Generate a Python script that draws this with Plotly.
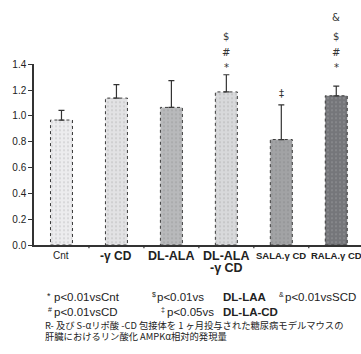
import plotly.graph_objects as go

categories = ["Cnt", "-γCD", "DL-ALA", "DL-ALA-γCD", "SALA.γCD", "RALA.γCD"]
tick_labels = [["Cnt"], ["-γ CD"], ["DL-ALA"], ["DL-ALA", "-γ CD"], ["SALA.γ CD"], ["RALA.γ CD"]]
values = [0.968, 1.138, 1.066, 1.186, 0.817, 1.156]
errors = [0.075, 0.105, 0.208, 0.133, 0.268, 0.075]
sig_marks = [[], [], [], ["*", "#", "$"], [], ["*", "#", "$", "&"]]
dagger_marks = ["", "", "", "", "‡", ""]
y_ticks = [0.0, 0.2, 0.4, 0.6, 0.8, 1.0, 1.2, 1.4]
caption = ["R- 及び S-αリポ酸 -CD 包接体を 1 ヶ月投与された糖尿病モデルマウスの",
           "肝臓におけるリン酸化 AMPKα相対的発現量"]

# styles / layout helpers
W, H = 361, 354
bar_colors = ["#ececee", "#e2e2e4", "#b8b9bb", "#d8d9db", "#a2a3a5", "#75767a"]
label_fonts = [dict(size=10, bold=False), dict(size=12, bold=True), dict(size=12.5, bold=True),
               dict(size=12.5, bold=True), dict(size=9.5, bold=True), dict(size=9.5, bold=True)]
mark_shift = [0, 15, 31, 50]


def px_x(p):
    return p / W


def px_y(p):
    return 1 - p / H


fig = go.Figure()
fig.add_trace(go.Bar(
    x=list(range(len(categories))), y=values, width=0.4,
    marker=dict(color=bar_colors, line=dict(width=0),
                pattern=dict(shape=".", size=4, solidity=0.08, fgcolor="#8a8a8a",
                             fgopacity=0.35)),
    error_y=dict(type="data", symmetric=False, array=errors,
                 arrayminus=[0] * len(errors), color="#333333",
                 thickness=1.2, width=3),
    showlegend=False, hoverinfo="skip",
))

# caption as text marks on an invisible pixel-space overlay axis
fig.add_trace(go.Scatter(
    x=[45, 45], y=[331.5, 342], text=caption, mode="text", textposition="middle right",
    textfont=dict(size=9.3, color="#222222", family="Noto Sans CJK JP"),
    xaxis="x2", yaxis="y2", showlegend=False, hoverinfo="skip", cliponaxis=False,
))

# dashed bar outlines
for i, v in enumerate(values):
    fig.add_shape(type="rect", xref="x", yref="y", x0=i - 0.2, x1=i + 0.2, y0=0, y1=v,
                  line=dict(color="#3a3a3a", width=1, dash="dot"), layer="above")

# significance marks (stacked above the bars, * lowest)
for i, marks in enumerate(sig_marks):
    for k, m in enumerate(marks):
        fig.add_annotation(x=i, y=1.375, yref="y", xref="x", text=m, showarrow=False,
                           yanchor="middle", yshift=mark_shift[k],
                           font=dict(family="DejaVu Sans", size=10, color="#333333"))
for i, m in enumerate(dagger_marks):
    if m:
        fig.add_annotation(x=i, y=1.175, yref="y", xref="x", text=m, showarrow=False,
                           yanchor="middle",
                           font=dict(family="DejaVu Sans", size=10, color="#333333"))

# category labels
for i, lines in enumerate(tick_labels):
    f = label_fonts[i]
    for k, line in enumerate(lines):
        txt = f"<b>{line}</b>" if f["bold"] else line
        fig.add_annotation(x=i, xref="x", yref="paper", y=px_y(258 + 13 * k),
                           text=txt, showarrow=False, xanchor="center", yanchor="middle",
                           font=dict(family="Liberation Sans", size=f["size"], color="#222222"))

fig.update_layout(
    width=W, height=H,
    margin=dict(l=0, r=0, t=0, b=0),
    paper_bgcolor="white", plot_bgcolor="rgba(0,0,0,0)",
    bargap=0.6, hovermode=False,
    font=dict(family="Liberation Sans", color="#222222"),
    xaxis=dict(
        domain=[px_x(34), 1], anchor="y",
        range=[-0.5, 5.45], showticklabels=False,
        showline=True, linecolor="#333333", linewidth=1.5,
        ticks="", showgrid=False, zeroline=False, fixedrange=True,
    ),
    yaxis=dict(
        domain=[px_y(247), px_y(61)], anchor="x",
        range=[0, 1.4], tickvals=y_ticks, ticktext=[f"{t:.1f}" for t in y_ticks],
        showline=True, linecolor="#333333", linewidth=1.5,
        ticks="outside", ticklen=4, tickwidth=1.2, tickcolor="#333333",
        tickfont=dict(size=10, color="#222222"),
        showgrid=False, zeroline=False, fixedrange=True,
    ),
    xaxis2=dict(domain=[0, 1], range=[0, W], anchor="y2", visible=False, fixedrange=True),
    yaxis2=dict(domain=[0, 1], range=[H, 0], anchor="x2", visible=False, fixedrange=True),
)

# category boundary ticks on x axis
for b in range(1, len(categories)):
    fig.add_shape(type="line", xref="x", yref="y domain", x0=b - 0.5, x1=b - 0.5,
                  y0=0, y1=-0.018, line=dict(color="#333333", width=1.2))

legend_pieces = [
    ("*", 45, 299, 9, False), ("p<0.01vsCnt", 52, 301, 11.5, False),
    ("$", 150, 298, 7, False), ("p<0.01vs", 155, 301, 11.5, False),
    ("DL-LAA", 221, 301, 11.5, True),
    ("&", 277, 298, 7, False), ("p<0.01vsSCD", 283, 301, 11.5, False),
    ("#", 46, 313, 7, False), ("p<0.01vsCD", 52, 315.5, 11.5, False),
    ("‡", 159, 313, 7, False), ("p<0.05vs", 165, 315.5, 11.5, False),
    ("DL-LA-CD", 221, 315.5, 11.5, True),
]
for text, px, py, size, bold in legend_pieces:
    fig.add_annotation(xref="paper", yref="paper", x=px_x(px), y=px_y(py),
                       text=f"<b>{text}</b>" if bold else text, showarrow=False,
                       xanchor="left", yanchor="middle",
                       font=dict(size=size, color="#222222", family="Liberation Sans"))

fig.write_html("out.html", config={"displayModeBar": False},
               post_script="document.body.style.margin='0';document.body.style.overflow='hidden';")
